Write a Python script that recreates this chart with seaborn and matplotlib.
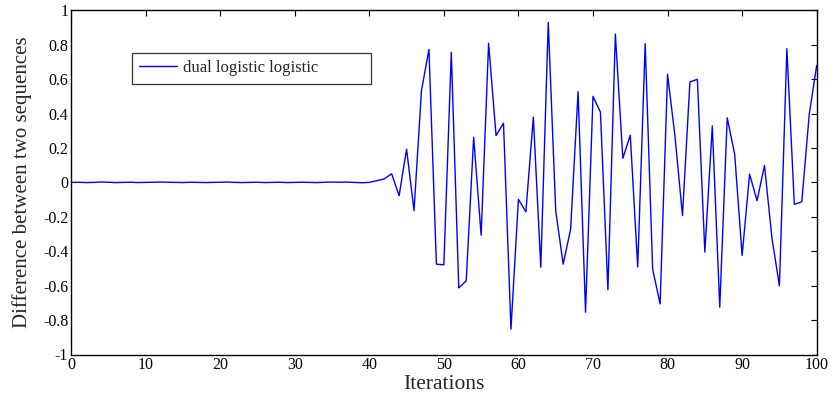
import numpy as np
import pandas as pd
import matplotlib
matplotlib.use("Agg")
import matplotlib.pyplot as plt
import seaborn as sns

iterations = list(range(0, 101))
diff_first = [0.000, 0.001, -0.001, 0.000, 0.002, 0.001, -0.001, 0.000, 0.001, -0.001,
              0.000, 0.001, 0.002, 0.001, 0.000, -0.001, 0.001, 0.000, -0.001, 0.000,
              0.001, 0.002, 0.000, -0.001, 0.000, 0.001, -0.001, 0.000, 0.001, -0.001,
              0.000, 0.001, 0.000, -0.001, 0.001, 0.002, 0.001, 0.002, 0.000, -0.002]
diff_second = [0.000, 0.010, 0.020, 0.050, -0.077, 0.193, -0.164, 0.533, 0.773, -0.475,
               -0.479, 0.756, -0.613, -0.572, 0.262, -0.307, 0.808, 0.272, 0.344, -0.853,
               -0.098, -0.171, 0.379, -0.493, 0.930, -0.164, -0.475, -0.272, 0.527, -0.754,
               0.500, 0.408, -0.624, 0.862, 0.140, 0.274, -0.491, 0.806, -0.504, -0.706,
               0.628, 0.266, -0.193, 0.584, 0.599, -0.405, 0.328, -0.725, 0.375, 0.164,
               -0.425, 0.048, -0.106, 0.098, -0.324, -0.601, 0.777, -0.127, -0.113, 0.396,
               0.680]
difference = diff_first + diff_second
series_name = "dual logistic logistic"

xticks = list(range(0, 101, 10))
yticks = [1, 0.8, 0.6, 0.4, 0.2, 0, -0.2, -0.4, -0.6, -0.8, -1]
ytick_labels = ["1", "0.8", "0.6", "0.4", "0.2", "0", "-0.2", "-0.4", "-0.6", "-0.8", "-1"]

df = pd.DataFrame({"Iterations": iterations, "diff": difference, "series": series_name})

sns.set_style("white")
plt.rcParams["font.family"] = ["Liberation Serif", "DejaVu Serif"]

W, H = 833, 398
fig = plt.figure(figsize=(W/100, H/100), dpi=100)
ax_l, ax_r, ax_t, ax_b = 71, 816.7, 10.3, 354.5
ax = fig.add_axes([ax_l/W, 1 - ax_b/H, (ax_r-ax_l)/W, (ax_b-ax_t)/H])

sns.lineplot(data=df, x="Iterations", y="diff", hue="series", palette=["#0000ff"],
             linewidth=1.0, ax=ax, legend=True)

ax.set_xlim(0, 100)
ax.set_ylim(-1, 1)
ax.set_xticks(xticks)
ax.set_xticklabels([str(t) for t in xticks])
ax.set_yticks(yticks)
ax.set_yticklabels(ytick_labels)
ax.tick_params(axis="both", direction="in", length=4, width=0.8, top=True, right=True,
               labelsize=11.5, pad=2, colors="black")
for s in ax.spines.values():
    s.set_color("black")
    s.set_linewidth(1.0)
ax.set_xlabel("Iterations", fontsize=15.5, labelpad=1)
ax.set_ylabel("Difference between two sequences", fontsize=15, labelpad=8)

aw, ah = ax_r - ax_l, ax_b - ax_t
lx0, lx1, ly0, ly1 = 131.5, 371, 52.7, 81.7
leg = ax.legend(loc="upper left", mode="expand",
                bbox_to_anchor=((lx0-ax_l)/aw, 1 - (ly1-ax_t)/ah, (lx1-lx0)/aw, (ly1-ly0)/ah),
                frameon=True, fancybox=False, fontsize=12, handlelength=2.3,
                borderaxespad=0, borderpad=0.45, handletextpad=0.35)
leg.get_frame().set_edgecolor("black")
leg.get_frame().set_linewidth(0.9)
for t in leg.get_texts():
    t.set_text(series_name)

fig.savefig("out.png", dpi=100)
